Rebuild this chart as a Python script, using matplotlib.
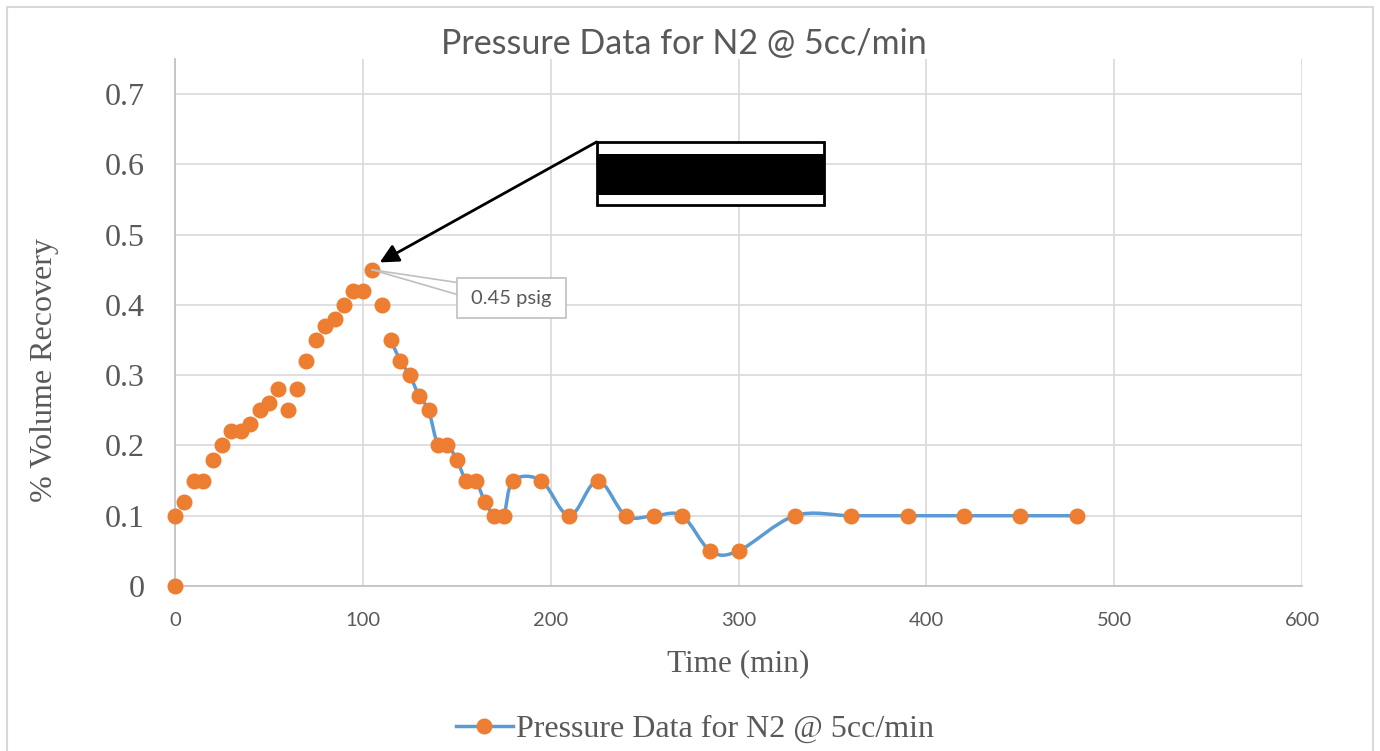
import numpy as np
import matplotlib
matplotlib.use('Agg')
import matplotlib.pyplot as plt
from matplotlib.path import Path
from matplotlib.patches import PathPatch, Rectangle
from matplotlib.lines import Line2D

# Data
time_min = [0, 0, 5, 10, 15, 20, 25, 30, 35, 40, 45, 50, 55, 60, 65, 70, 75, 80,
            85, 90, 95, 100, 105, 110, 115, 120, 125, 130, 135, 140, 145, 150,
            155, 160, 165, 170, 175, 180, 195, 210, 225, 240, 255, 270, 285, 300,
            330, 360, 390, 420, 450, 480]
pressure = [0, 0.1, 0.12, 0.15, 0.15, 0.18, 0.2, 0.22, 0.22, 0.23, 0.25, 0.26,
            0.28, 0.25, 0.28, 0.32, 0.35, 0.37, 0.38, 0.4, 0.42, 0.42, 0.45, 0.4,
            0.35, 0.32, 0.3, 0.27, 0.25, 0.2, 0.2, 0.18, 0.15, 0.15, 0.12, 0.1,
            0.1, 0.15, 0.15, 0.1, 0.15, 0.1, 0.1, 0.1, 0.05, 0.05, 0.1, 0.1, 0.1,
            0.1, 0.1, 0.1]
line_start = 24   # the connecting line only shows from t=115 on
series_name = 'Pressure Data for N2 @ 5cc/min'
peak_label = '0.45 psig'

BLUE = '#5B9BD5'
ORANGE = '#ED7D31'
GRID = '#d9d9d9'
TXT = '#595959'
SERIF = 'Liberation Serif'
SANS = 'Lato'


def smooth_path(xs, ys, t=1.0 / 6):
    # Excel style smoothed line: cubic bezier with catmull-rom control points
    pts = np.column_stack([xs, ys]).astype(float)
    n = len(pts)
    verts = [pts[0]]
    codes = [Path.MOVETO]
    for i in range(n - 1):
        p0 = pts[i - 1] if i > 0 else pts[i]
        p1 = pts[i]
        p2 = pts[i + 1]
        p3 = pts[i + 2] if i + 2 < n else pts[i + 1]
        c1 = p1 + (p2 - p0) * t
        c2 = p2 - (p3 - p1) * t
        verts += [c1, c2, p2]
        codes += [Path.CURVE4] * 3
    return Path(verts, codes)


fig = plt.figure(figsize=(13.8, 7.51), dpi=100)
ax = fig.add_axes([175 / 1380, 1 - 586 / 751, 1127 / 1380, 527 / 751])

# smoothed connecting line
path = smooth_path(time_min[line_start:], pressure[line_start:])
ax.add_patch(PathPatch(path, fill=False, edgecolor=BLUE, lw=2.5, zorder=3,
                       capstyle='round'))
ax.plot(time_min, pressure, linestyle='none', marker='o', markersize=10.5,
        color=ORANGE, zorder=4, clip_on=False)

ax.set_xlim(0, 600)
ax.set_ylim(0, 0.75)
ax.set_xticks(np.arange(0, 601, 100))
ax.set_yticks(np.arange(0, 0.71, 0.1))
ax.set_yticklabels(['0'] + ['%.1f' % v for v in np.arange(0.1, 0.71, 0.1)])
ax.grid(True, color=GRID, lw=1.2)
ax.set_axisbelow(True)
for s in ['top', 'right']:
    ax.spines[s].set_visible(False)
for s in ['left', 'bottom']:
    ax.spines[s].set_color('#bfbfbf')
    ax.spines[s].set_linewidth(1.2)
ax.tick_params(length=0)
ax.tick_params(axis='y', pad=22, labelsize=23, labelcolor=TXT)
ax.tick_params(axis='x', pad=19, labelsize=14.5, labelcolor=TXT)
for lab in ax.get_yticklabels():
    lab.set_fontfamily(SERIF)
for lab in ax.get_xticklabels():
    lab.set_fontfamily(SANS)

ax.set_xlabel('Time (min)', fontfamily=SERIF, fontsize=22.5, color=TXT, labelpad=14)
ax.set_ylabel('% Volume Recovery', fontfamily=SERIF, fontsize=23, color=TXT)
ax.yaxis.set_label_coords(-0.103, 0.41)

fig.text(684 / 1380, 1 - 44 / 751, series_name, ha='center', va='center',
         fontfamily=SANS, fontsize=24.5, color=TXT)

# data callout for the peak
ax.plot([time_min[22], 150], [pressure[22], 0.432], color='#bfbfbf', lw=1.2, zorder=5)
ax.plot([time_min[22], 150], [pressure[22], 0.415], color='#bfbfbf', lw=1.2, zorder=5)
ax.add_patch(Rectangle((150, 0.382), 58, 0.0557, facecolor='white',
                       edgecolor='#bfbfbf', lw=1.2, zorder=5))
ax.text(179, 0.409, peak_label, ha='center', va='center', fontfamily=SANS,
        fontsize=14.5, color=TXT, zorder=6)

# redacted text box with arrow
ax.add_patch(Rectangle((224.5, 0.542), 121.2, 0.09, facecolor='white',
                       edgecolor='black', lw=2, zorder=5))
ax.add_patch(Rectangle((224.5, 0.556), 121.2, 0.0585, facecolor='black',
                       edgecolor='none', zorder=6))
ax.annotate('', xy=(109, 0.4605), xytext=(224.5, 0.632),
            arrowprops=dict(arrowstyle='-|>', color='black', lw=2,
                            mutation_scale=28, shrinkA=0, shrinkB=0), zorder=6)

handle = Line2D([], [], color=BLUE, lw=2.5, marker='o', markersize=10.5,
                markerfacecolor=ORANGE, markeredgecolor=ORANGE)
leg = fig.legend([handle], [series_name], loc='center',
                 bbox_to_anchor=(695 / 1380, 1 - 729 / 751), frameon=False,
                 prop={'family': SERIF, 'size': 23}, handlelength=1.8,
                 handletextpad=0.1)
for t in leg.get_texts():
    t.set_color(TXT)

# outer chart border
fig.add_artist(Rectangle((7 / 1380, -0.02), 1366 / 1380, 1 - 7 / 751 + 0.02,
                         transform=fig.transFigure, fill=False,
                         edgecolor=GRID, lw=1.5))

fig.savefig('out.png', dpi=100)
